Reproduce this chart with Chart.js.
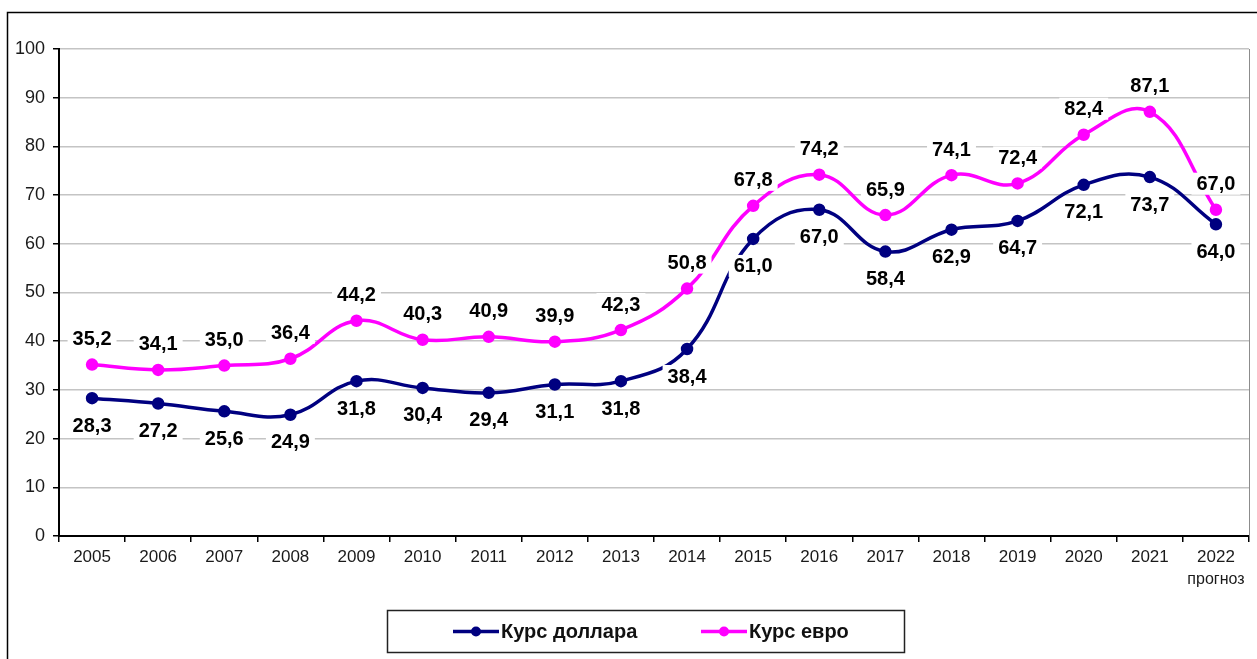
<!DOCTYPE html>
<html lang="ru">
<head>
    <meta charset="UTF-8">
    <title>Курс доллара и евро</title>
    <script src="https://cdn.jsdelivr.net/npm/chart.js"></script>
    <style>
        body { margin: 0; background: #fff; }
        #wrap { width: 1257px; height: 659px; }
    </style>
</head>
<body>
    <div id="wrap">
        <canvas id="rates" width="1257" height="659"></canvas>
    </div>

    <script>
        // data
        var years = ['2005', '2006', '2007', '2008', '2009', '2010', '2011', '2012', '2013',
                     '2014', '2015', '2016', '2017', '2018', '2019', '2020', '2021', '2022'];
        var forecastNote = 'прогноз';
        var dollar = [28.3, 27.2, 25.6, 24.9, 31.8, 30.4, 29.4, 31.1, 31.8,
                      38.4, 61.0, 67.0, 58.4, 62.9, 64.7, 72.1, 73.7, 64.0];
        var euro = [35.2, 34.1, 35.0, 36.4, 44.2, 40.3, 40.9, 39.9, 42.3,
                    50.8, 67.8, 74.2, 65.9, 74.1, 72.4, 82.4, 87.1, 67.0];
        var seriesNames = ['Курс доллара', 'Курс евро'];
        var yTicks = [0, 10, 20, 30, 40, 50, 60, 70, 80, 90, 100];

        var FONT = '"Liberation Sans", Arial, sans-serif';

        // value labels with white boxes, frame, legend
        var decorations = {
            id: 'decorations',
            beforeDraw: function(chart) {
                var ctx = chart.ctx;
                ctx.save();
                ctx.fillStyle = '#fff';
                ctx.fillRect(0, 0, chart.width, chart.height);
                ctx.strokeStyle = '#000';
                ctx.lineWidth = 1.5;
                ctx.strokeRect(7.5, 12.5, chart.width + 20, chart.height + 20);
                ctx.restore();
            },
            afterDatasetsDraw: function(chart) {
                var ctx = chart.ctx;
                var area = chart.chartArea;
                var xs = chart.scales.x;
                ctx.save();
                // right edge of plot area
                ctx.strokeStyle = '#8c8c8c';
                ctx.lineWidth = 1;
                ctx.beginPath();
                ctx.moveTo(area.right + 0.5, area.top);
                ctx.lineTo(area.right + 0.5, area.bottom);
                ctx.stroke();

                // forecast note under the last year
                ctx.font = '16px ' + FONT;
                ctx.fillStyle = '#1a1a1a';
                ctx.textAlign = 'center';
                ctx.textBaseline = 'middle';
                ctx.fillText(forecastNote, xs.getPixelForValue(years.length - 1), 580);

                ctx.font = 'bold 20px ' + FONT;
                chart.data.datasets.forEach(function(ds, i) {
                    var meta = chart.getDatasetMeta(i);
                    var dy = i === 0 ? 27 : -26;
                    meta.data.forEach(function(pt, j) {
                        var txt = ds.data[j].toFixed(1).replace('.', ',');
                        var w = ctx.measureText(txt).width;
                        var x = pt.x, y = pt.y + dy;
                        ctx.fillStyle = '#fff';
                        ctx.fillRect(x - w / 2 - 5, y - 11, w + 10, 22);
                        ctx.fillStyle = '#000';
                        ctx.fillText(txt, x, y + 1);
                    });
                });

                // legend
                var bx = 387.5, by = 610.5, bw = 517, bh = 42;
                ctx.fillStyle = '#fff';
                ctx.fillRect(bx, by, bw, bh);
                ctx.strokeStyle = '#222';
                ctx.lineWidth = 1.5;
                ctx.strokeRect(bx, by, bw, bh);
                var starts = [453, 701];
                ctx.font = 'bold 20px ' + FONT;
                ctx.textAlign = 'left';
                chart.data.datasets.forEach(function(ds, i) {
                    var lx = starts[i], ly = by + bh / 2;
                    ctx.strokeStyle = ds.borderColor;
                    ctx.lineWidth = 3.5;
                    ctx.beginPath();
                    ctx.moveTo(lx, ly);
                    ctx.lineTo(lx + 46, ly);
                    ctx.stroke();
                    ctx.fillStyle = ds.borderColor;
                    ctx.beginPath();
                    ctx.arc(lx + 23, ly, 5, 0, Math.PI * 2);
                    ctx.fill();
                    ctx.fillStyle = '#111';
                    ctx.fillText(ds.label, lx + 48, ly + 1);
                });
                ctx.restore();
            }
        };

        var ctx = document.getElementById('rates').getContext('2d');
        var ratesChart = new Chart(ctx, {
            type: 'line',
            data: {
                labels: years,
                datasets: [{
                    label: seriesNames[0],
                    data: dollar,
                    borderColor: '#000080',
                    backgroundColor: '#000080',
                    borderWidth: 3.5,
                    pointRadius: 4.5,
                    pointHoverRadius: 4.5,
                    tension: 0.42
                }, {
                    label: seriesNames[1],
                    data: euro,
                    borderColor: '#ff00ff',
                    backgroundColor: '#ff00ff',
                    borderWidth: 3.5,
                    pointRadius: 4.5,
                    pointHoverRadius: 4.5,
                    tension: 0.42
                }]
            },
            options: {
                responsive: false,
                animation: false,
                devicePixelRatio: 1,
                layout: { padding: { left: 8, top: 49, right: 3, bottom: 73 } },
                plugins: {
                    legend: { display: false },
                    tooltip: { enabled: false }
                },
                scales: {
                    x: {
                        offset: true,
                        grid: { drawOnChartArea: false, offset: true, tickLength: 6, tickColor: '#000', lineWidth: 1.5 },
                        border: { color: '#000', width: 2 },
                        ticks: {
                            color: '#1a1a1a',
                            font: { family: FONT, size: 17 },
                            padding: 5,
                            maxRotation: 0,
                            autoSkip: false
                        },
                        afterFit: function(scale) {
                            scale.height = 50;
                            scale.paddingLeft = 0;
                            scale.paddingRight = 0;
                        }
                    },
                    y: {
                        min: 0,
                        max: 100,
                        afterBuildTicks: function(scale) {
                            scale.ticks = yTicks.map(function(v) { return { value: v }; });
                        },
                        grid: { color: '#c4c4c4', lineWidth: 1.5, tickLength: 6, tickColor: '#000' },
                        border: { color: '#000', width: 2 },
                        ticks: {
                            color: '#1a1a1a',
                            font: { family: FONT, size: 18 },
                            padding: 8
                        },
                        afterFit: function(scale) { scale.width = 51; }
                    }
                }
            },
            plugins: [decorations]
        });
    </script>
</body>
</html>
